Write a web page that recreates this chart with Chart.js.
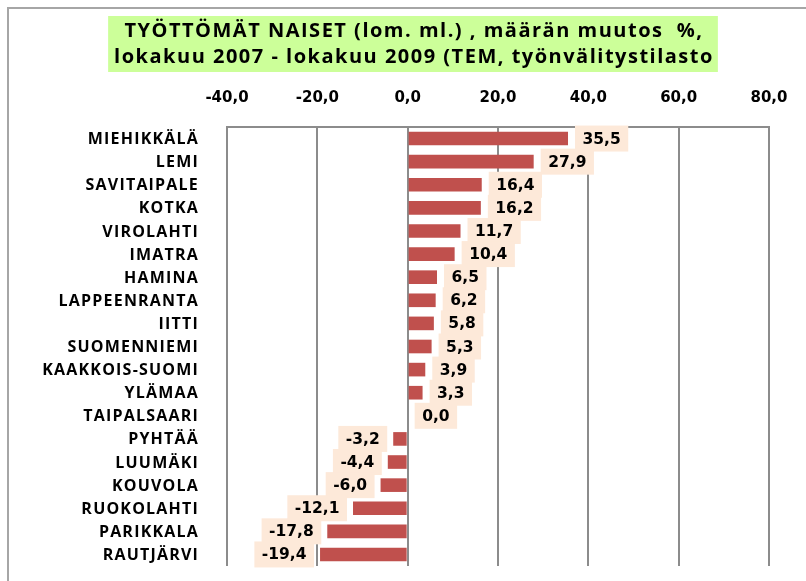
<!DOCTYPE html>
<html>
<head>
<meta charset="utf-8">
<script src="https://cdn.jsdelivr.net/npm/chart.js@4.4.0/dist/chart.umd.min.js"></script>
<style>
    html, body { margin: 0; padding: 0; background: #ffffff; }
    #chartBox { width: 806px; height: 581px; }
</style>
</head>
<body>
<div id="chartBox"><canvas id="muutosChart" width="806" height="581"></canvas></div>
<script>
// --- Data ---
const municipalities = [
    'MIEHIKKÄLÄ', 'LEMI', 'SAVITAIPALE', 'KOTKA', 'VIROLAHTI', 'IMATRA',
    'HAMINA', 'LAPPEENRANTA', 'IITTI', 'SUOMENNIEMI', 'KAAKKOIS-SUOMI ',
    'YLÄMAA', 'TAIPALSAARI', 'PYHTÄÄ', 'LUUMÄKI', 'KOUVOLA', 'RUOKOLAHTI',
    'PARIKKALA', 'RAUTJÄRVI'
];
const changePct = [
    35.5, 27.9, 16.4, 16.2, 11.7, 10.4,
    6.5, 6.2, 5.8, 5.3, 3.9,
    3.3, 0.0, -3.2, -4.4, -6.0, -12.1,
    -17.8, -19.4
];
const tickValues = [-40, -20, 0, 20, 40, 60, 80];
const titleLines = [
    'TYÖTTÖMÄT NAISET (lom. ml.) , määrän muutos  %,',
    'lokakuu 2007 - lokakuu 2009 (TEM, työnvälitystilasto'
];

// Finnish style number: one decimal, comma separator
function formatFi(value) {
    return Number(value).toFixed(1).replace('.', ',');
}

// --- Plugins ---
// Page frame + green title box
const frameAndTitlePlugin = {
    id: 'frameAndTitle',
    beforeDraw(chart) {
        const ctx = chart.ctx;
        ctx.save();
        // outer frame (only top and left edges are visible in the reference)
        ctx.strokeStyle = '#a6a6a6';
        ctx.lineWidth = 2;
        ctx.beginPath();
        ctx.moveTo(8, chart.height);
        ctx.lineTo(8, 8);
        ctx.lineTo(chart.width, 8);
        ctx.stroke();

        // title box
        ctx.font = 'bold 20px "Open Sans"';
        ctx.letterSpacing = '1.5px';
        const textWidth = Math.max(...titleLines.map(t => ctx.measureText(t).width));
        const centerX = 413;
        ctx.fillStyle = '#ccff99';
        ctx.fillRect(centerX - textWidth / 2 - 5, 16, textWidth + 10, 56);

        ctx.fillStyle = '#000000';
        ctx.textAlign = 'center';
        ctx.textBaseline = 'middle';
        titleLines.forEach((line, i) => {
            ctx.fillText(line, centerX + 1, 31 + i * 26);
        });
        ctx.restore();
    }
};

// Category names, drawn by hand so they can be letter-spaced like the original
const categoryLabelPlugin = {
    id: 'categoryLabels',
    afterDraw(chart) {
        const ctx = chart.ctx;
        const yScale = chart.scales.y;
        ctx.save();
        ctx.font = 'bold 16px "Open Sans"';
        ctx.letterSpacing = '1.2px';
        ctx.fillStyle = '#000000';
        ctx.textAlign = 'right';
        ctx.textBaseline = 'middle';
        municipalities.forEach((name, i) => {
            ctx.fillText(name.trim(), chart.chartArea.left - 28, yScale.getPixelForValue(i) + 1);
        });
        ctx.restore();
    }
};

// Value labels with light peach boxes
const valueLabelPlugin = {
    id: 'valueLabels',
    afterDatasetsDraw(chart) {
        const ctx = chart.ctx;
        const meta = chart.getDatasetMeta(0);
        ctx.save();
        ctx.font = 'bold 15.5px "DejaVu Sans"';
        ctx.textBaseline = 'middle';
        ctx.textAlign = 'center';
        meta.data.forEach((bar, i) => {
            const value = changePct[i];
            const text = formatFi(value);
            const w = ctx.measureText(text).width + 15;
            const h = 26;
            const x0 = value < 0 ? bar.x - 6 - w : bar.x + 7;
            const y0 = bar.y - h / 2;
            ctx.fillStyle = '#fde9d9';
            ctx.fillRect(x0, y0, w, h);
            ctx.fillStyle = '#000000';
            ctx.fillText(text, x0 + w / 2, bar.y + 1);
        });
        ctx.restore();
    }
};

// --- Chart ---
const ctx = document.getElementById('muutosChart').getContext('2d');
new Chart(ctx, {
    type: 'bar',
    data: {
        labels: municipalities,
        datasets: [{
            data: changePct,
            backgroundColor: '#c0504d',
            borderWidth: 0,
            categoryPercentage: 1.0,
            barPercentage: 0.59
        }]
    },
    options: {
        indexAxis: 'y',
        responsive: false,
        animation: false,
        layout: {
            padding: { top: 80, left: 0, right: 37, bottom: 15 }
        },
        plugins: {
            legend: { display: false },
            tooltip: { enabled: false },
            title: { display: false }
        },
        scales: {
            x: {
                position: 'top',
                min: -40,
                max: 80,
                afterBuildTicks: scale => {
                    scale.ticks = tickValues.map(v => ({ value: v }));
                },
                afterFit: scale => {
                    scale.height = 47;
                    scale.paddingLeft = 0;
                    scale.paddingRight = 0;
                },
                grid: {
                    color: '#8c8c8c',
                    lineWidth: 2,
                    drawTicks: false
                },
                border: { color: '#8c8c8c', width: 2 },
                ticks: {
                    padding: 20,
                    color: '#000000',
                    font: { family: '"DejaVu Sans"', size: 15, weight: 'bold' },
                    callback: value => formatFi(value)
                }
            },
            y: {
                afterFit: scale => {
                    scale.width = 227;
                    scale.paddingTop = 0;
                    scale.paddingBottom = 0;
                },
                grid: { display: false },
                border: { display: false },
                ticks: { display: false }
            }
        }
    },
    plugins: [frameAndTitlePlugin, categoryLabelPlugin, valueLabelPlugin]
});
</script>
</body>
</html>
